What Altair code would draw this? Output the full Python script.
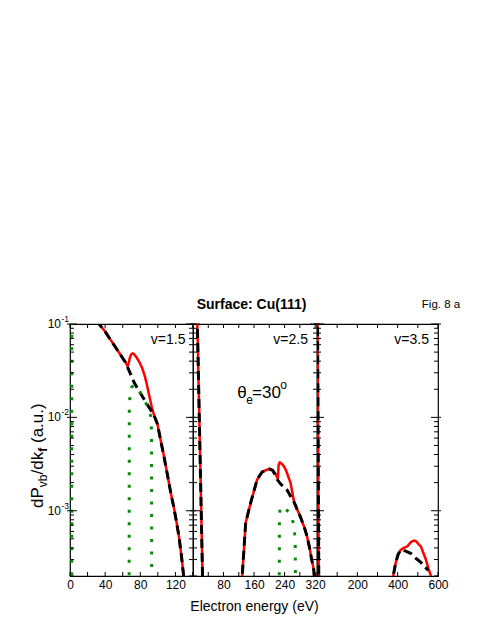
import altair as alt
import pandas as pd

FONT = "Liberation Sans"

# ---------------- data ----------------
# Panel 1 : v = 1.5
p1_red_E = [30, 33, 40, 46, 52, 58, 63, 65.5, 66.5, 68, 69.5, 71, 73, 76, 79, 82, 85, 87.5, 90, 93, 96,
            99.5, 103, 107, 111, 115, 118, 121, 124, 127, 129, 130.5]
p1_red_P = [0.109, 0.1, 0.083, 0.068, 0.056, 0.046, 0.039, 0.0355, 0.037, 0.043, 0.047, 0.0485, 0.0475,
            0.0435, 0.039, 0.034, 0.028, 0.0225, 0.0175, 0.013, 0.0103, 0.0085, 0.0058, 0.0038, 0.0024,
            0.0015, 0.00111, 0.00078, 0.00053, 0.00032, 0.000215, 0.00015]
p1_blk_E = [30, 33, 40, 46, 52, 58, 63, 67, 70, 73, 78, 84, 90, 94, 97, 99.5, 103, 107, 111, 115, 118,
            121, 124, 127, 129, 130.5]
p1_blk_P = [0.109, 0.1, 0.083, 0.068, 0.056, 0.046, 0.039, 0.032, 0.0275, 0.0236, 0.0195, 0.0158,
            0.0128, 0.0112, 0.0098, 0.0085, 0.0058, 0.0038, 0.0024, 0.0015, 0.00111, 0.00078, 0.00053,
            0.00032, 0.000215, 0.00015]
p1_grn_E = [2, 2, 67.3, 67.5, 68.5, 70, 73, 76, 80, 85, 89.5, 92, 92.8, 93]
p1_grn_P = [0.00015, 0.11, 0.00015, 0.013, 0.018, 0.021, 0.0222, 0.021, 0.0185, 0.0152, 0.0122,
            0.0102, 0.007, 0.00015]
p1_grn_seg = [0, 0, 1, 1, 1, 1, 1, 1, 1, 1, 1, 1, 1, 1]

# Panel 2 : v = 2.5
p2_red_E = [11, 25.5,
            127, 129, 138, 151, 168, 181, 194, 201, 209, 216, 220, 222.5, 224.5, 227, 232, 238, 244,
            250, 255.5, 260, 264, 268.5, 273, 282, 292, 299, 305, 311, 316.5, 319, 320]
p2_red_P = [0.125, 0.00016,
            0.00015, 0.0002, 0.00074, 0.00121, 0.00215, 0.0026, 0.00275, 0.0028, 0.0027, 0.0025,
            0.0023, 0.0022, 0.0031, 0.0033, 0.0032, 0.003, 0.0027, 0.0023, 0.002, 0.0016, 0.0013,
            0.00112, 0.00103, 0.00085, 0.00066, 0.00053, 0.00041, 0.0003, 0.000234, 0.00017, 0.00015]
p2_red_seg = [0, 0] + [1] * 31
p2_blk_E = [11, 25.5,
            127, 129, 138, 151, 168, 181, 194, 201, 209, 216, 221, 227, 237, 247, 257, 264, 268.5,
            273, 282, 292, 299, 305, 311, 316.5, 319, 320]
p2_blk_P = [0.125, 0.00016,
            0.00015, 0.0002, 0.00074, 0.00121, 0.00215, 0.0026, 0.00275, 0.0028, 0.0027, 0.0024,
            0.00215, 0.002, 0.0018, 0.00166, 0.0014, 0.00125, 0.00115, 0.00103, 0.00085, 0.00066,
            0.00053, 0.00041, 0.0003, 0.000234, 0.00017, 0.00015]
p2_blk_seg = [0, 0] + [1] * 26
p2_grn_E = [226, 226.5, 228, 230.5, 237, 244, 251, 257, 262.5, 266, 268, 268.5]
p2_grn_P = [0.00015, 0.0008, 0.00105, 0.00111, 0.00108, 0.00103, 0.00097, 0.00088, 0.00075,
            0.00062, 0.0004, 0.00015]

# Panel 3 : v = 3.5
p3_red_E = [2.5, 9,
            372, 378, 390, 402, 415, 430, 448, 465, 481, 492, 503, 515, 528, 540, 553, 565, 572]
p3_red_P = [0.13, 0.00016,
            0.00015, 0.0002, 0.000276, 0.00034, 0.00038, 0.0004, 0.000415, 0.00046, 0.00048,
            0.00047, 0.00044, 0.000415, 0.00035, 0.0003, 0.00024, 0.0002, 0.00015]
p3_red_seg = [0, 0] + [1] * 17
p3_blk_E = [2.5, 9,
            372, 378, 390, 402, 415, 440, 465, 490, 515, 535, 552]
p3_blk_P = [0.13, 0.00016,
            0.00015, 0.0002, 0.000276, 0.00034, 0.00038, 0.00037, 0.00035, 0.00031, 0.00028,
            0.00025, 0.00023]
p3_blk_seg = [0, 0] + [1] * 11

# axes
Y_DOMAIN = [2e-4, 0.1]
y_major = [1e-3, 1e-2, 1e-1]
y_minor = [2e-4, 3e-4, 4e-4, 5e-4, 6e-4, 7e-4, 8e-4, 9e-4,
           2e-3, 3e-3, 4e-3, 5e-3, 6e-3, 7e-3, 8e-3, 9e-3,
           2e-2, 3e-2, 4e-2, 5e-2, 6e-2, 7e-2, 8e-2, 9e-2]
y_label_vals = [1e-1, 1e-2, 1e-3]
y_label_sup = ["-1", "-2", "-3"]

p1_xdom, p1_xticks, p1_xlabels = [0, 140], [0, 20, 40, 60, 80, 100, 120, 140], [0, 40, 80, 120]
p2_xdom, p2_xticks, p2_xlabels = [0, 325], [0, 40, 80, 120, 160, 200, 240, 280, 320], [80, 160, 240, 320]
p3_xdom, p3_xticks, p3_xlabels = [0, 600], [0, 100, 200, 300, 400, 500, 600], [200, 400, 600]

H = 252
RED, BLACK, GREEN = "#ff0000", "#000000", "#0a8a0a"

ysc = alt.Scale(type="log", domain=Y_DOMAIN, nice=False)


def line_df(E, P, seg=None):
    if seg is None:
        seg = [0] * len(E)
    return pd.DataFrame({"E": E, "P": P, "seg": seg, "i": list(range(len(E)))})


def txt(s, x, y, size, align="left", baseline="alphabetic", angle=None, weight="normal"):
    kw = dict(text=s, fontSize=size, align=align, baseline=baseline, font=FONT,
              color="black", fontWeight=weight)
    if angle is not None:
        kw["angle"] = angle
    return alt.Chart(pd.DataFrame({"a": [0]})).mark_text(**kw).encode(
        x=alt.value(x), y=alt.value(y))


def panel(xdom, W, xticks, xlabels, curves, extras):
    xsc = alt.Scale(domain=xdom, nice=False, zero=False)
    xax = alt.Axis(values=xlabels, ticks=False, domain=False, grid=False, title=None,
                   labelFontSize=12, labelPadding=3, labelFlush=False, labelOverlap=False,
                   labelFont=FONT, labelColor="black", format="d")
    layers = []
    for df, color, width, dash in curves:
        mk = dict(clip=True, color=color, strokeWidth=width, strokeCap="butt", strokeJoin="round")
        if dash:
            mk["strokeDash"] = dash
        layers.append(alt.Chart(df).mark_line(**mk).encode(
            x=alt.X("E:Q", scale=xsc, axis=xax),
            y=alt.Y("P:Q", scale=ysc, axis=None),
            detail="seg:N", order="i:Q"))
    xt = pd.DataFrame({"t": xticks})
    for y0, y1 in [(H, H - 4), (0, 4)]:
        layers.append(alt.Chart(xt).mark_rule(color="black", strokeWidth=1).encode(
            x=alt.X("t:Q", scale=xsc, axis=xax), y=alt.value(y0), y2=alt.value(y1)))
    ymin = pd.DataFrame({"t": y_minor})
    ymaj = pd.DataFrame({"t": y_major})
    for df, a, b in [(ymin, 0, 4), (ymin, W - 4, W), (ymaj, -3, 7), (ymaj, W - 7, W + 3)]:
        layers.append(alt.Chart(df).mark_rule(color="black", strokeWidth=1).encode(
            y=alt.Y("t:Q", scale=ysc, axis=None), x=alt.value(a), x2=alt.value(b)))
    layers.extend(extras)
    return alt.layer(*layers).properties(width=W, height=H)


# y labels 10^-n (panel 1)
ylab = pd.DataFrame({"v": y_label_vals, "s": y_label_sup})
ylab_main = alt.Chart(ylab).mark_text(text="10", align="right", baseline="middle", fontSize=12,
                                      font=FONT, color="black").encode(
    y=alt.Y("v:Q", scale=ysc, axis=None), x=alt.value(-9))
ylab_sup = alt.Chart(ylab).mark_text(align="right", baseline="middle", fontSize=8.5, dy=-5,
                                     font=FONT, color="black").encode(
    y=alt.Y("v:Q", scale=ysc, axis=None), x=alt.value(-1), text="s:N")

ytitle = [
    txt("dP", -27, 184, 17, angle=270),
    txt("vb", -23, 163.2, 12, angle=270),
    txt("/dk", -27, 150.5, 17, angle=270),
    txt("f", -23, 127.8, 12, angle=270, weight="bold"),
    txt("(a.u.)", -27, 119, 17, angle=270),
]

W1, W2, W3 = 123, 124, 121
GDASH = [3, 9.5]

p1 = panel(p1_xdom, W1, p1_xticks, p1_xlabels, [
    (line_df(p1_red_E, p1_red_P), RED, 2.5, None),
    (line_df(p1_blk_E, p1_blk_P), BLACK, 3, [9, 5]),
    (line_df(p1_grn_E, p1_grn_P, p1_grn_seg), GREEN, 3, GDASH),
], [ylab_main, ylab_sup, txt("v=1.5", W1 - 7.5, 16, 14, align="right", baseline="middle")] + ytitle)

p2 = panel(p2_xdom, W2, p2_xticks, p2_xlabels, [
    (line_df(p2_red_E, p2_red_P, p2_red_seg), RED, 2.5, None),
    (line_df(p2_blk_E, p2_blk_P, p2_blk_seg), BLACK, 3, [9, 5]),
    (line_df(p2_grn_E, p2_grn_P), GREEN, 3, GDASH),
], [
    txt("v=2.5", W2 - 9, 16, 14, align="right", baseline="middle"),
    txt("Surface: Cu(111)", 58.5, -19, 14, align="center", baseline="middle", weight="bold"),
    txt("\u03b8", 44.2, 74, 17),
    txt("e", 53.3, 80, 12),
    txt("=30", 59, 74, 17),
    txt("o", 87.3, 65, 12),
    txt("Electron energy (eV)", 61.5, 287, 14, align="center"),
])

p3 = panel(p3_xdom, W3, p3_xticks, p3_xlabels, [
    (line_df(p3_red_E, p3_red_P, p3_red_seg), RED, 2.5, None),
    (line_df(p3_blk_E, p3_blk_P, p3_blk_seg), BLACK, 3, [9, 5]),
], [
    txt("v=3.5", W3 - 9, 16, 14, align="right", baseline="middle"),
    txt("Fig. 8 a", 124, -19, 11.5, align="center", baseline="middle"),
])

chart = alt.hconcat(p1, p2, p3, spacing=0, bounds="flush").resolve_scale(
    x="independent", y="shared"
).properties(
    padding={"left": 20, "top": 289, "right": 5, "bottom": 5}
).configure_view(stroke="black", strokeWidth=1.2)

chart.save("out.html", embed_options={"renderer": "svg", "actions": False})
